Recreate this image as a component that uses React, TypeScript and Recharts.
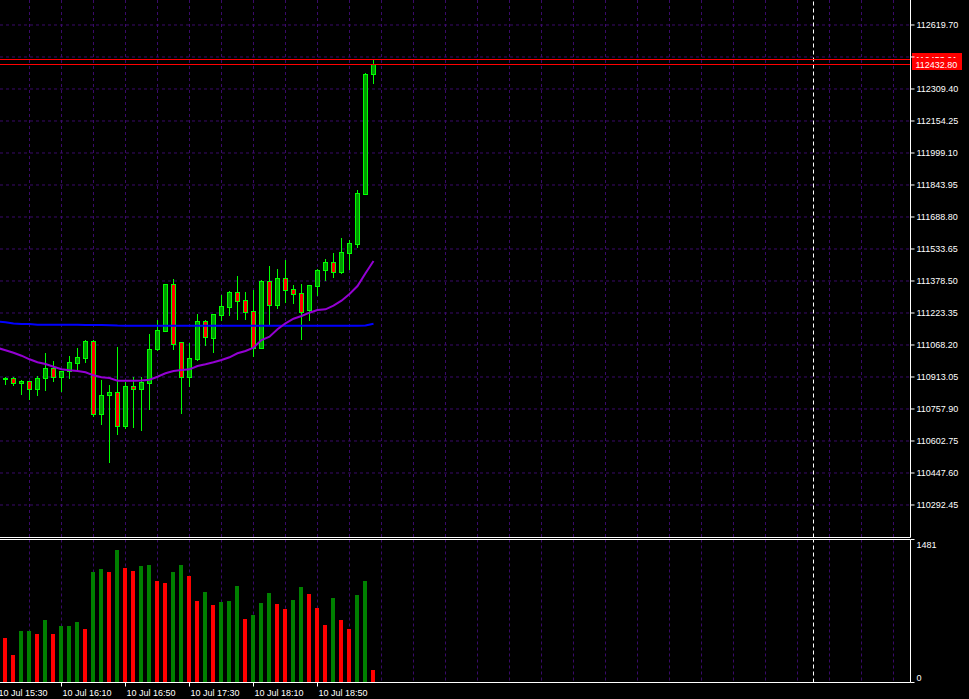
import { ComposedChart, Bar, Line, XAxis, YAxis, CartesianGrid, ReferenceLine } from 'recharts';

// 5-minute bars, 10 Jul 15:30 .. 19:25 (the 15:30 bar sits just off the left edge)
const openPrices = [
  null,
  110902, 110907, 110882, 110892, 110853, 110907, 110958, 110912, 110941, 110982,
  111007, 111088, 110735, 110824, 110839, 110677, 110869, 110853, 110885, 111047,
  111138, 111364, 111081, 110915, 111002, 111185, 111104, 111215, 111254, 111324,
  111285, 111233, 111055, 111378, 111264, 111393, 111340, 111320, 111239, 111356,
  111430, 111471, 111422, 111516, 111559, 111802, 112381,
];
const highPrices = [
  null,
  110915, 110912, 110898, 110894, 110918, 111029, 110991, 110942, 111015, 111055,
  111092, 111091, 110898, 110874, 111060, 110890, 110913, 110913, 111122, 111189,
  111366, 111388, 111083, 111078, 111219, 111189, 111219, 111309, 111331, 111403,
  111324, 111335, 111383, 111451, 111437, 111480, 111359, 111364, 111361, 111437,
  111487, 111514, 111587, 111577, 111820, 112386, 112450,
];
const lowPrices = [
  null,
  110878, 110874, 110831, 110808, 110826, 110850, 110895, 110847, 110910, 110947,
  110987, 110725, 110687, 110502, 110638, 110667, 110672, 110656, 110758, 111044,
  111136, 111049, 110740, 110871, 110995, 111070, 111036, 111189, 111214, 111194,
  111194, 111016, 111053, 111165, 111249, 111278, 111272, 111097, 111189, 111311,
  111383, 111396, 111417, 111437, 111545, 111800, 112340,
];
const closePrices = [
  null,
  110910, 110882, 110894, 110853, 110908, 110957, 110912, 110941, 110984, 111010,
  111088, 110735, 110824, 110839, 110677, 110869, 110853, 110889, 111049, 111141,
  111364, 111075, 110915, 111004, 111185, 111106, 111217, 111256, 111324, 111283,
  111230, 111052, 111378, 111264, 111393, 111336, 111317, 111230, 111359, 111432,
  111471, 111424, 111519, 111563, 111805, 112382, 112432.8,
];
const tickVolumes = [
  520,
  459, 280, 532, 533, 501, 648, 501, 585, 586, 627,
  554, 1142, 1173, 1142, 1373, 1184, 1152, 1205, 1215, 1047,
  1026, 1142, 1215, 1100, 848, 942, 806, 837, 848, 995,
  659, 701, 827, 932, 816, 764, 858, 984, 921, 774,
  596, 879, 648, 554, 911, 1047, 133,
];
// fast moving average (purple)
const maFast = [
  111054.0,
  111042.5, 111030.8, 111016.3, 110998.8, 110984.3, 110976.0, 110963.0, 110950.3, 110945.5, 110942.1,
  110935.8, 110921.2, 110911.6, 110908.2, 110895.1, 110894.5, 110894.8, 110895.6, 110899.9, 110914.5,
  110930.9, 110942.1, 110947.0, 110950.3, 110966.3, 110974.6, 110984.3, 110995.4, 111008.5, 111027.9,
  111039.1, 111055.1, 111092.4, 111108.4, 111144.3, 111173.4, 111195.7, 111208.8, 111224.8, 111237.9,
  111241.3, 111258.7, 111283.0, 111315.4, 111354.2, 111415.8, 111475.4,
];
// slow moving average (blue)
const maSlow = [
  111181.5,
  111178.7, 111172.4, 111170.0, 111169.6, 111166.8, 111166.6, 111166.5, 111166.3, 111166.1, 111165.9,
  111165.6, 111165.2, 111164.8, 111164.1, 111162.2, 111162.0, 111161.9, 111161.8, 111161.8, 111161.7,
  111161.7, 111161.6, 111161.6, 111161.5, 111161.5, 111161.5, 111161.4, 111161.4, 111161.4, 111161.3,
  111161.3, 111161.3, 111161.3, 111161.2, 111161.2, 111161.2, 111161.3, 111161.3, 111161.4, 111161.4,
  111161.5, 111161.5, 111161.6, 111161.7, 111161.9, 111162.4, 111171.4,
];

const priceTicks = [
  112619.7, 112464.55, 112309.4, 112154.25, 111999.1, 111843.95, 111688.8, 111533.65,
  111378.5, 111223.35, 111068.2, 110913.05, 110757.9, 110602.75, 110447.6, 110292.45,
];
const timeTickIndex = [-1, 7, 15, 23, 31, 39];
const timeTickLabels = ['10 Jul 15:30', '10 Jul 16:10', '10 Jul 16:50', '10 Jul 17:30', '10 Jul 18:10', '10 Jul 18:50'];
const bidPrice = 112432.8;
const askPrice = 112453.01;
const volumeMax = 1481;
const futureMarkerIndex = 101;

const X_DOMAIN = [-0.6875, 113.125];
const PRICE_DOMAIN = [110134.85, 112740.91];
const gridIndex = Array.from({ length: 28 }, (_, k) => 3 + 4 * k);

const WICK = '#00ff00';
const BULL = '#009a00';
const BEAR = '#ff0000';
const GRID = '#3a0a6a';
const FONT = 'Liberation Sans, Arial, sans-serif';

const candles = openPrices.map((open, n) => ({
  i: n - 1,
  open,
  high: highPrices[n],
  low: lowPrices[n],
  close: closePrices[n],
  range: open == null ? null : [lowPrices[n], highPrices[n]],
  volume: n > 0 ? tickVolumes[n] : null,
  volUp: n > 0 && tickVolumes[n] >= tickVolumes[n - 1],
  maFast: maFast[n],
  maSlow: maSlow[n],
}));

const CandleShape = (props: any) => {
  const { x, y, width, height, payload } = props;
  if (!payload || payload.open == null || height == null) return <g />;
  const { open, close, high, low } = payload;
  const cx = Math.round(x + width / 2 - 0.5) + 0.5;
  const k = height / (high - low || 1);
  const toY = (v: number) => y + (high - v) * k;
  const top = Math.round(toY(Math.max(open, close)));
  const bottom = Math.round(toY(Math.min(open, close)));
  return (
    <g>
      <line x1={cx} x2={cx} y1={Math.round(toY(high))} y2={Math.round(toY(low)) + 1} stroke={WICK} strokeWidth={1} />
      <rect
        x={cx - 2}
        y={top + 0.5}
        width={4}
        height={Math.max(bottom - top, 1)}
        fill={close >= open ? BULL : BEAR}
        stroke={WICK}
        strokeWidth={1}
      />
    </g>
  );
};

const VolumeShape = (props: any) => {
  const { x, y, width, height, payload } = props;
  if (!payload || payload.volume == null) return <g />;
  const left = Math.round(x + width / 2 - 0.5) - 2;
  const top = Math.round(y);
  const bottom = Math.round(y + height);
  return <rect x={left} y={top} width={4} height={bottom - top} fill={payload.volUp ? '#008000' : '#ff0000'} />;
};

const EmptyTick = () => <g />;

const PriceTick = ({ x, y, payload }: any) => {
  // the one under the current price box is not drawn
  if (Math.abs(payload.value - bidPrice) < 60) return <g />;
  return (
    <text x={x} y={y} dy={3.5} fill="#fff" fontSize={9} fontFamily={FONT} textAnchor="start">
      {payload.value.toFixed(2)}
    </text>
  );
};

const VolumeTick = ({ x, y, payload }: any) => (
  <text x={x} y={y} dy={payload.value === volumeMax ? 8 : -2} fill="#fff" fontSize={9} fontFamily={FONT} textAnchor="start">
    {payload.value}
  </text>
);

const TimeTick = ({ x, y, payload }: any) => {
  const idx = timeTickIndex.indexOf(payload.value);
  return (
    <text x={x + 1} y={y} dy={7} fill="#fff" fontSize={9} fontFamily={FONT} textAnchor="start">
      {timeTickLabels[idx]}
    </text>
  );
};

const priceLine = (price: number) => (props: any) => {
  const { x1, x2, y1 } = props;
  const yy = Math.round(y1) + 0.5;
  const right = Math.max(x1, x2);
  return (
    <g>
      <line x1={Math.min(x1, x2)} x2={right} y1={yy} y2={yy} stroke="#ff0000" strokeWidth={1} />
      <rect x={right + 1.5} y={yy - 6.5} width={50} height={12} fill="#ff0000" />
      <text x={right + 5} y={yy} dy={3.5} fill="#fff" fontSize={9} fontFamily={FONT}>
        {price.toFixed(2)}
      </text>
    </g>
  );
};

const App = () => {
  return (
    <div style={{ position: 'fixed', left: 0, top: 0, width: 969, height: 699, background: '#000', overflow: 'hidden' }}>
      <div style={{ position: 'absolute', left: 0, top: 0 }}>
        <ComposedChart width={969} height={538.5} data={candles} margin={{ top: 0, right: 0, bottom: 0, left: 0 }}>
          <CartesianGrid stroke={GRID} strokeDasharray="3 3" horizontalValues={priceTicks} verticalValues={gridIndex} />
          <XAxis
            dataKey="i"
            type="number"
            domain={X_DOMAIN}
            allowDataOverflow
            height={1}
            ticks={gridIndex}
            interval={0}
            tick={<EmptyTick />}
            tickLine={false}
            axisLine={{ stroke: '#fff' }}
          />
          <YAxis
            orientation="right"
            width={58.5}
            domain={PRICE_DOMAIN}
            allowDataOverflow
            ticks={priceTicks}
            interval={0}
            tick={<PriceTick />}
            tickSize={4}
            tickMargin={2}
            tickLine={{ stroke: '#fff' }}
            axisLine={{ stroke: '#fff' }}
          />
          <Bar dataKey="range" barSize={5} shape={<CandleShape />} isAnimationActive={false} />
          <Line dataKey="maSlow" stroke="#0000ff" strokeWidth={2} dot={false} activeDot={false} isAnimationActive={false} />
          <Line dataKey="maFast" stroke="#9400d3" strokeWidth={2} dot={false} activeDot={false} isAnimationActive={false} />
          <ReferenceLine x={futureMarkerIndex} stroke="#fff" strokeDasharray="4 3" />
          <ReferenceLine y={askPrice} shape={priceLine(askPrice)} />
          <ReferenceLine y={bidPrice} shape={priceLine(bidPrice)} />
        </ComposedChart>
      </div>
      <div style={{ position: 'absolute', left: 0, top: 538 }}>
        <ComposedChart width={969} height={161} data={candles} margin={{ top: 0, right: 0, bottom: 0, left: 0 }}>
          <CartesianGrid stroke={GRID} strokeDasharray="3 3" horizontal={false} verticalValues={gridIndex} />
          <XAxis
            xAxisId="top"
            orientation="top"
            dataKey="i"
            type="number"
            domain={X_DOMAIN}
            allowDataOverflow
            height={1.5}
            tick={false}
            tickLine={false}
            axisLine={{ stroke: '#fff' }}
          />
          <XAxis
            dataKey="i"
            type="number"
            domain={X_DOMAIN}
            allowDataOverflow
            height={16.5}
            ticks={timeTickIndex}
            interval={0}
            tick={<TimeTick />}
            tickSize={4}
            tickMargin={2}
            tickLine={{ stroke: '#fff' }}
            axisLine={{ stroke: '#fff' }}
          />
          <YAxis
            orientation="right"
            width={58.5}
            domain={[0, volumeMax]}
            allowDataOverflow
            ticks={[0, volumeMax]}
            interval={0}
            tick={<VolumeTick />}
            tickSize={4}
            tickMargin={2}
            tickLine={{ stroke: '#fff' }}
            axisLine={{ stroke: '#fff' }}
          />
          <Bar dataKey="volume" barSize={4} shape={<VolumeShape />} isAnimationActive={false} />
          <ReferenceLine x={futureMarkerIndex} stroke="#fff" strokeDasharray="4 3" />
        </ComposedChart>
      </div>
    </div>
  );
};

export default App;
